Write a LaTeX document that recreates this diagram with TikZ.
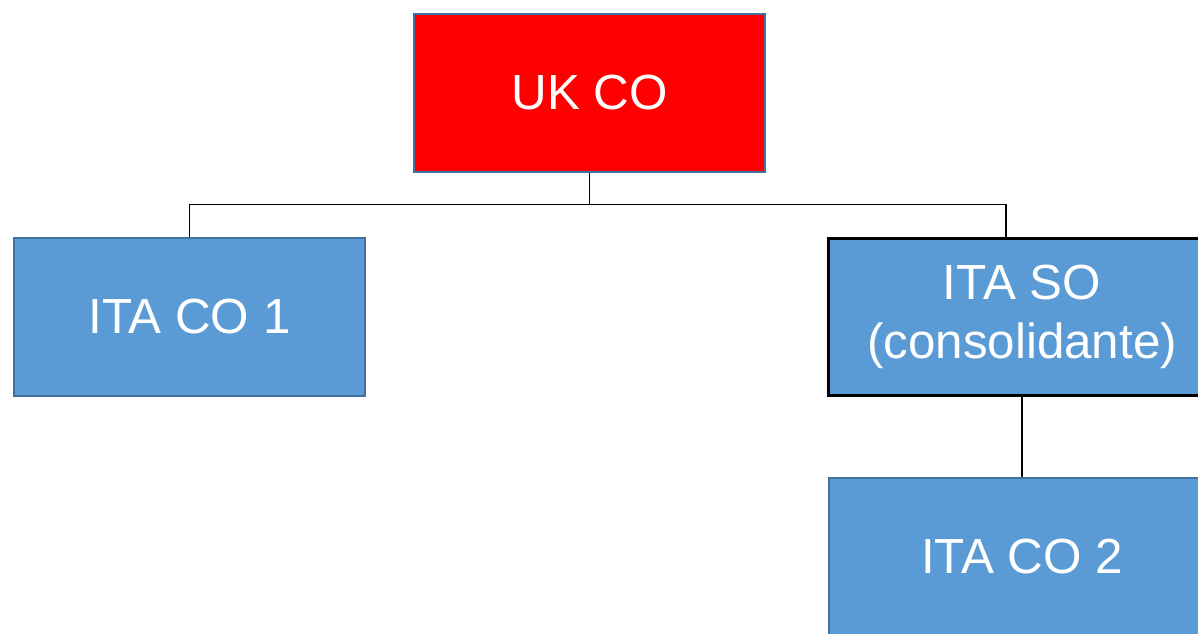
\documentclass[tikz,border=0pt]{standalone}
\usepackage{fontspec}
\setmainfont{Liberation Sans}
\definecolor{boxblue}{HTML}{5B9BD5}
\definecolor{boxedge}{HTML}{41719C}
\begin{document}
\begin{tikzpicture}[x=0.75pt,y=-0.75pt,
  org/.style={rectangle, draw=boxedge, line width=1.5pt, fill=boxblue, text=white,
    font=\fontsize{37}{44}\selectfont, align=center, inner sep=0pt, minimum height=118pt},
  link/.style={draw=black, line width=0.9pt}]
\useasboundingbox (0,0) rectangle (1198,633);
\clip (0,0) rectangle (1198,633);
\node [org, fill=red, minimum width=263pt] (ukco) at (589.5,93) {UK CO};
\node [org, minimum width=263pt] (itaco1) at (189.5,317) {ITA CO 1};
\node [org, draw=black, line width=2pt, minimum width=290pt] (itaso) at (1022,317) {ITA SO\\(consolidante)};
\node [org, minimum width=290pt] (itaco2) at (1022,557) {ITA CO 2};
\draw [link] (ukco.south) -- ++(0,32) -| (itaco1.north);
\draw [link] (ukco.south) -- ++(0,32) -| ([xshift=-12pt]itaso.north);
\draw [link] (itaso.south) -- (itaco2.north);
\end{tikzpicture}
\end{document}
